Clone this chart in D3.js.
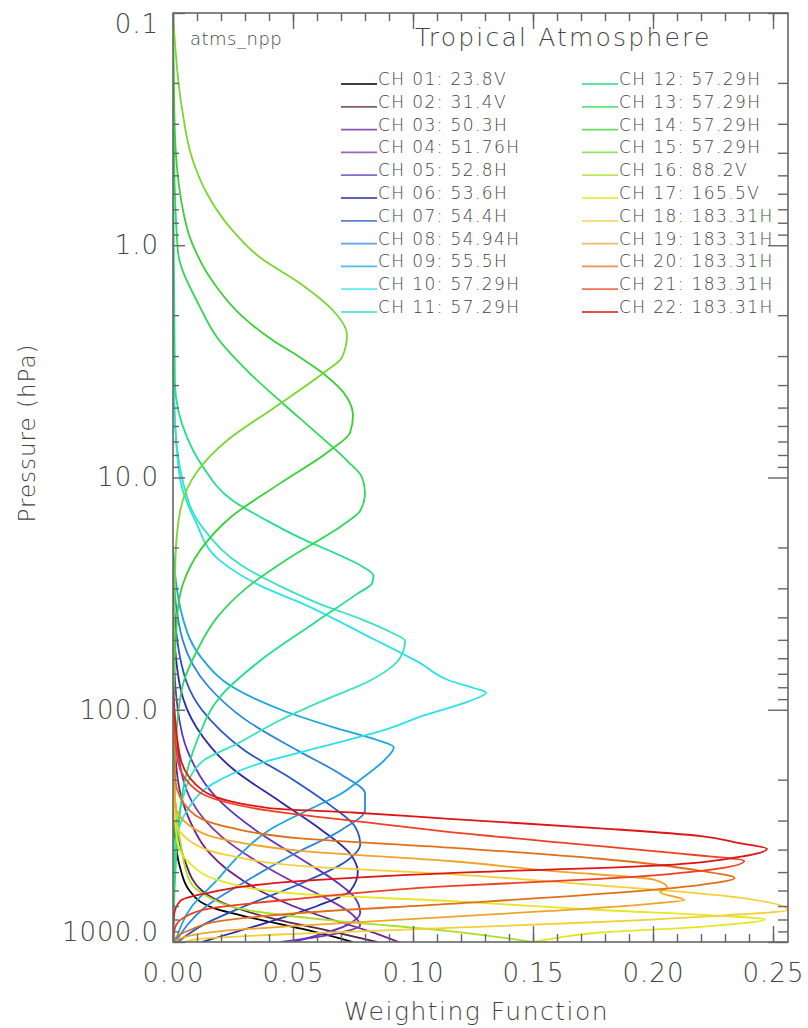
<!DOCTYPE html>
<html>
<head>
<meta charset="utf-8">
<script src="https://cdn.jsdelivr.net/npm/d3@7"></script>
<style>
  body { margin: 0; background: #fff; }
  svg text { font-family: "DejaVu Sans", sans-serif; font-weight: 200; fill: #444; }
</style>
</head>
<body>
<div class="wf_plot"></div>
<script>
// channel labels and colours
const channelLabels = ['CH 01: 23.8V','CH 02: 31.4V','CH 03: 50.3H','CH 04: 51.76H','CH 05: 52.8H',
  'CH 06: 53.6H','CH 07: 54.4H','CH 08: 54.94H','CH 09: 55.5H','CH 10: 57.29H','CH 11: 57.29H',
  'CH 12: 57.29H','CH 13: 57.29H','CH 14: 57.29H','CH 15: 57.29H','CH 16: 88.2V','CH 17: 165.5V',
  'CH 18: 183.31H','CH 19: 183.31H','CH 20: 183.31H','CH 21: 183.31H','CH 22: 183.31H'];
const channelColors = ['#000000','#5a2450','#6a2090','#7a34b0','#5f34c4','#2a2aa8','#2456c4','#2a86e0',
  '#18a6e0','#2ce2e8','#34e4c0','#22e088','#30d858','#38d034','#78d830','#a8e024','#e6e622',
  '#f2d036','#f2a426','#e07018','#f04020','#e01414'];

// weighting functions: [pressure hPa, weight]
const ch01 = [[200,0],[342,0.0008],[480,0.003],[603,0.007],[713,0.0167],[788,0.033],[879,0.054],[1000,0.075]];
const ch02 = [[150,0],[300,0.0015],[450,0.005],[600,0.012],[700,0.024],[800,0.043],[900,0.066],[1000,0.085]];
const ch03 = [[100,0],[200,0.002],[300,0.007],[400,0.014],[500,0.024],[600,0.036],[700,0.05],[800,0.066],[900,0.082],[1000,0.094]];
const ch04 = [[80,0],[150,0.002],[250,0.008],[350,0.02],[450,0.035],[550,0.05],[650,0.064],[750,0.074],[850,0.078],[920,0.068],[1000,0.045]];
const ch05 = [[50,0],[100,0.002],[150,0.006],[250,0.02],[350,0.038],[450,0.055],[550,0.068],[650,0.076],[750,0.078],[850,0.072],[1000,0.05]];
const ch06 = [[40,0],[80,0.003],[120,0.01],[180,0.025],[250,0.045],[330,0.062],[420,0.074],[500,0.077],[600,0.074],[700,0.06],[850,0.035],[1000,0.012]];
const ch07 = [[30,0],[60,0.003],[100,0.012],[150,0.03],[200,0.05],[260,0.066],[320,0.076],[380,0.078],[450,0.072],[550,0.055],[700,0.03],[850,0.012],[1000,0.002]];
const ch08 = [[25,0],[50,0.004],[80,0.015],[110,0.03],[150,0.052],[190,0.07],[230,0.08],[270,0.08],[330,0.07],[420,0.05],[550,0.03],[700,0.014],[1000,0.001]];
const ch09 = [[20,0],[40,0.004],[60,0.012],[80,0.025],[100,0.045],[120,0.068],[135,0.085],[145,0.092],[165,0.088],[200,0.078],[230,0.07],[265,0.058],[330,0.04],[430,0.027],[546,0.018],[700,0.008],[1000,0.001]];
const ch10 = [[4.7,0.0004],[10.2,0.003],[15.3,0.0092],[22.8,0.0196],[29.2,0.0363],[35,0.0542],[48.7,0.082],[63,0.103],[75,0.1154],[81,0.126],[84.5,0.1304],
  [91.4,0.124],[107,0.103],[120,0.0904],[145,0.0613],[170,0.0363],[208,0.0167],[272,0.0058],[367,0.0013],[600,0],[1000,0]];
const ch11 = [[2,0],[5.7,0.0008],[12.9,0.0067],[17.4,0.0142],[24,0.0288],[29.5,0.045],[34.9,0.0608],[40.9,0.0788],[46.6,0.0912],[50.4,0.0967],
  [59.8,0.0946],[75,0.082],[91.4,0.0625],[111,0.0446],[140,0.0267],[166,0.0125],[223,0.005],[367,0.0012],[1000,0]];
const ch12 = [[0.1,0],[1.0,0.0003],[3.9,0.0008],[6.7,0.0058],[9.0,0.0125],[12.6,0.025],[15.3,0.039],[18.2,0.053],[21.3,0.068],[24.2,0.079],[26.5,0.0835],
  [28.5,0.083],[31.7,0.0767],[42.7,0.0583],[61.5,0.0363],[88,0.0196],[136,0.01],[200,0.005],[350,0.002],[1000,0]];
const ch13 = [[0.1,0],[0.39,0.0004],[1.05,0.002],[1.85,0.0113],[2.49,0.0183],[3.56,0.032],[4.8,0.0458],[6.46,0.06],[8.45,0.0725],[10,0.0788],[11.7,0.08],
  [13.9,0.078],[16.1,0.0704],[22.1,0.0488],[29.8,0.0308],[40.1,0.0183],[55.7,0.01],[77.3,0.0042],[136,0.0012],[247,0.0004],[1000,0]];
const ch14 = [[0.1,0],[0.33,0.0008],[0.84,0.0058],[1.05,0.0092],[1.52,0.0183],[2.04,0.0292],[2.57,0.0417],[3.04,0.053],[3.56,0.0625],[4.52,0.0725],[5.41,0.075],
  [6.4,0.0738],[7.65,0.0654],[10.6,0.0446],[14.9,0.0238],[20.6,0.0113],[28.6,0.0042],[40.1,0.0017],[91,0.0004],[1000,0]];
const ch15 = [[0.1,0],[0.26,0.0038],[0.42,0.0079],[0.6,0.0142],[0.84,0.0238],[1.13,0.0363],[1.46,0.053],[1.91,0.0667],[2.44,0.0725],
  [3.04,0.0704],[3.56,0.0625],[5.04,0.0417],[6.93,0.0225],[9.33,0.0104],[13.9,0.003],[22.8,0.001],[100,0.0002],[1000,0]];
const ch16 = [[100,0],[247,0.001],[367,0.003],[546,0.007],[621,0.0125],[735,0.033],[811,0.068],[897,0.115],[1000,0.15]];
const ch17 = [[200,0],[367,0.0017],[458,0.007],[546,0.02],[621,0.053],[666,0.115],[728,0.178],[772,0.228],[797,0.2467],[860,0.22],[910,0.178],[960,0.16],[1000,0.15]];
const ch18 = [[150,0],[301,0.001],[367,0.007],[425,0.024],[470,0.053],[510,0.115],[570,0.178],[630,0.228],[728,0.256],[770,0.228],[820,0.178],[870,0.115],[920,0.053],[970,0.011],[1000,0.005]];
const ch19 = [[130,0],[258,0.001],[316,0.007],[367,0.024],[405,0.053],[448,0.115],[494,0.157],[538,0.2],[584,0.206],[610,0.203],[660,0.213],
  [685,0.199],[735,0.157],[780,0.115],[850,0.053],[897,0.02],[950,0.005],[1000,0.001]];
const ch20 = [[110,0],[202,0.001],[272,0.007],[322,0.024],[358,0.053],[392,0.115],[438,0.178],[494,0.22],[530,0.234],
  [567,0.22],[621,0.178],[685,0.115],[750,0.053],[811,0.02],[888,0.007],[960,0.001],[1000,0]];
const ch21 = [[90,0],[166,0.002],[223,0.01],[272,0.04],[305,0.08],[332,0.111],[380,0.17],[420,0.215],[448,0.238],
  [494,0.22],[535,0.178],[575,0.115],[650,0.053],[718,0.015],[780,0.005],[860,0.001],[1000,0]];
const ch22 = [[80,0],[160,0.003],[223,0.0125],[265,0.04],[277,0.075],[295,0.115],[324,0.178],[350,0.22],[375,0.236],[397,0.2475],
  [430,0.236],[470,0.199],[505,0.115],[546,0.054],[621,0.0125],[666,0.003],[770,0.0004],[1000,0]];
const profiles = [ch01,ch02,ch03,ch04,ch05,ch06,ch07,ch08,ch09,ch10,ch11,ch12,ch13,ch14,ch15,ch16,ch17,ch18,ch19,ch20,ch21,ch22];

const pressureTicks = [0.1, 1, 10, 100, 1000];
const weightTicks = [0, 0.05, 0.10, 0.15, 0.20, 0.25];

const margin = {top: 13, right: 20, bottom: 86, left: 173};
const width = 788 - margin.left,
      height = 942 - margin.top;

const xScale = d3.scaleLinear().domain([0, 0.25625]).range([0, width]);
const yScale = d3.scaleLog().domain([0.1, 1000]).range([0, height]);

const svg = d3.select('.wf_plot')
              .append('svg')
              .attr('width', 808)
              .attr('height', 1028)
              .append('g')
              .attr('transform', 'translate(' + margin.left + ',' + margin.top + ')');

svg.append('clipPath').attr('id', 'clip')
   .append('rect').attr('width', width).attr('height', height);

// curves
const line = d3.line()
               .x(d => xScale(d[1]))
               .y(d => yScale(d[0]))
               .curve(d3.curveMonotoneY);

svg.append('g').attr('clip-path', 'url(#clip)')
   .selectAll('path')
   .data(profiles)
   .enter()
   .append('path')
   .attr('d', line)
   .attr('fill', 'none')
   .attr('stroke', (d, i) => channelColors[i])
   .attr('stroke-width', 1.8);

// axes
const minorX = d3.range(0, 0.2561, 0.01);
const minorY = [];
[0.1, 1, 10, 100].forEach(dec => d3.range(2, 10).forEach(m => minorY.push(dec * m)));

function styleAxis(g) {
  g.selectAll('.domain').remove();
  g.selectAll('line').attr('stroke', '#666').attr('stroke-width', 1.4);
  g.selectAll('text').attr('fill', '#444');
}

svg.append('g').attr('transform', `translate(0, ${height})`)
   .call(d3.axisBottom(xScale).tickValues(minorX).tickSize(-8).tickFormat(''))
   .call(styleAxis);
svg.append('g').attr('transform', `translate(0, ${height})`)
   .call(d3.axisBottom(xScale).tickValues(weightTicks).tickSize(-16).tickPadding(22).tickFormat(d3.format('.2f')))
   .call(styleAxis)
   .selectAll('text').attr('font-size', 26).attr('letter-spacing', 1);
svg.append('g')
   .call(d3.axisTop(xScale).tickValues(minorX).tickSize(-8).tickFormat(''))
   .call(styleAxis);
svg.append('g')
   .call(d3.axisTop(xScale).tickValues(weightTicks).tickSize(-16).tickFormat(''))
   .call(styleAxis);

svg.append('g')
   .call(d3.axisLeft(yScale).tickValues(minorY).tickSize(-6).tickFormat(''))
   .call(styleAxis);
const yAxisG = svg.append('g')
   .call(d3.axisLeft(yScale).tickValues(pressureTicks).tickSize(-12).tickPadding(14).tickFormat(d3.format('.1f')))
   .call(styleAxis);
yAxisG.selectAll('text').attr('font-size', 26).attr('letter-spacing', 1)
   .attr('dy', (d, i) => i === 0 ? '0.75em' : (i === pressureTicks.length - 1 ? '-0.05em' : '0.32em'));
svg.append('g').attr('transform', `translate(${width}, 0)`)
   .call(d3.axisRight(yScale).tickValues(minorY).tickSize(-10).tickFormat(''))
   .call(styleAxis);
svg.append('g').attr('transform', `translate(${width}, 0)`)
   .call(d3.axisRight(yScale).tickValues(pressureTicks).tickSize(-20).tickFormat(''))
   .call(styleAxis);

svg.append('rect')
   .attr('width', width).attr('height', height)
   .attr('fill', 'none').attr('stroke', '#666').attr('stroke-width', 1.6);

// titles
svg.append('text')
   .attr('x', width / 2 - 4).attr('y', height + 78)
   .attr('text-anchor', 'middle').attr('font-size', 25).attr('letter-spacing', 1.5)
   .text('Weighting Function');
svg.append('text')
   .attr('transform', `translate(${-138}, ${433 - margin.top}) rotate(-90)`)
   .attr('text-anchor', 'middle').attr('font-size', 23).attr('letter-spacing', 1)
   .text('Pressure (hPa)');
svg.append('text')
   .attr('x', 17).attr('y', 32)
   .attr('font-size', 18).attr('letter-spacing', 0.5)
   .text('atms_npp');
svg.append('text')
   .attr('x', 242).attr('y', 33)
   .attr('font-size', 25).attr('letter-spacing', 2.2)
   .text('Tropical Atmosphere');

// legend
const legend = svg.append('g');
const rows = legend.selectAll('g')
   .data(channelLabels)
   .enter()
   .append('g')
   .attr('transform', (d, i) => `translate(${i < 11 ? 168 : 409}, ${72 + 22.8 * (i % 11)})`);
rows.append('line')
   .attr('x1', 0).attr('x2', 36).attr('y1', -1).attr('y2', -1)
   .attr('stroke', (d, i) => channelColors[i]).attr('stroke-width', 1.8).attr('opacity', 0.75);
rows.append('text')
   .attr('x', 37).attr('y', 0)
   .attr('font-size', 17).attr('letter-spacing', 1.4)
   .text(d => d);
</script>
</body>
</html>
